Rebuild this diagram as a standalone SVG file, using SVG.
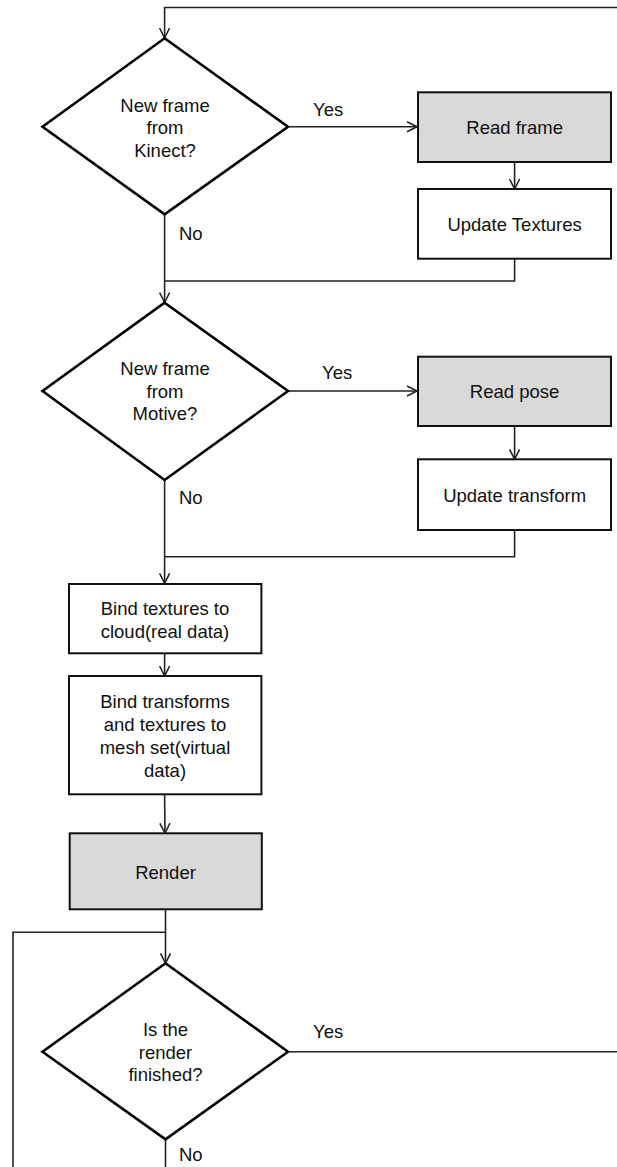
<svg xmlns="http://www.w3.org/2000/svg" width="617" height="1167" viewBox="0 0 617 1167">
  <style>
    text { font-family: "Liberation Sans", Arial, sans-serif; font-size: 18.5px; fill: #111; text-anchor: middle; }
    .lbl { text-anchor: start; }
    .dec { fill: #fff; stroke: #000; stroke-width: 2.6; stroke-linejoin: miter; }
    .box { fill: #fff; stroke: #111; stroke-width: 2; }
    .grey { fill: #d9d9d9; }
    .wire { fill: none; stroke: #222; stroke-width: 1.6; }
  </style>
  <defs>
    <marker id="arrow" markerUnits="userSpaceOnUse" markerWidth="14" markerHeight="14" refX="11" refY="6" orient="auto">
      <path d="M1,1 L11,6 L1,11" fill="none" stroke="#222" stroke-width="1.6"/>
    </marker>
  </defs>

  <!-- connectors -->
  <g id="connectors">
    <!-- loop back into the Kinect check -->
    <polyline class="wire" points="617,7.5 164.6,7.5 164.6,38" marker-end="url(#arrow)"/>
    <line class="wire" x1="288" y1="126.7" x2="417" y2="126.7" marker-end="url(#arrow)"/>
    <line class="wire" x1="514.6" y1="162" x2="514.6" y2="189" marker-end="url(#arrow)"/>
    <polyline class="wire" points="514.6,258.7 514.6,281 164.6,281"/>
    <line class="wire" x1="164.6" y1="214.3" x2="164.6" y2="302.5" marker-end="url(#arrow)"/>

    <line class="wire" x1="288" y1="391" x2="417" y2="391" marker-end="url(#arrow)"/>
    <line class="wire" x1="514.6" y1="426" x2="514.6" y2="459.3" marker-end="url(#arrow)"/>
    <polyline class="wire" points="514.6,530 514.6,556.7 164.6,556.7"/>
    <line class="wire" x1="164.6" y1="480" x2="164.6" y2="583.3" marker-end="url(#arrow)"/>

    <line class="wire" x1="164.6" y1="653.3" x2="164.6" y2="676" marker-end="url(#arrow)"/>
    <line class="wire" x1="164.6" y1="794.3" x2="165" y2="833.3" marker-end="url(#arrow)"/>
    <line class="wire" x1="165.5" y1="909.3" x2="165.5" y2="963.3" marker-end="url(#arrow)"/>

    <!-- wait loop while rendering -->
    <polyline class="wire" points="165.5,1139.3 165.5,1167"/>
    <polyline class="wire" points="13,1167 13,932.3 165.5,932.3"/>
    <line class="wire" x1="288" y1="1051.7" x2="617" y2="1051.7"/>

    <text class="lbl" x="313" y="116">Yes</text>
    <text class="lbl" x="179" y="240">No</text>
    <text class="lbl" x="322" y="379.3">Yes</text>
    <text class="lbl" x="179" y="504">No</text>
    <text class="lbl" x="313" y="1038.3">Yes</text>
    <text class="lbl" x="179" y="1161">No</text>
  </g>

  <g id="kinect-check">
    <polygon class="dec" points="164.6,38.3 288,126.7 164.6,214.3 42.5,126.7"/>
    <text x="165" y="111.7">New frame</text>
    <text x="165" y="134.2">from</text>
    <text x="165" y="156.7">Kinect?</text>
  </g>

  <g id="read-frame">
    <rect class="box grey" x="418" y="92.3" width="193" height="69.7"/>
    <text x="514.6" y="133.6">Read frame</text>
  </g>

  <g id="update-textures">
    <rect class="box" x="418" y="189" width="193" height="69.7"/>
    <text x="514.6" y="230.5">Update Textures</text>
  </g>

  <g id="motive-check">
    <polygon class="dec" points="164.6,302.7 288,391 164.6,480 42.5,391"/>
    <text x="165" y="375">New frame</text>
    <text x="165" y="397.7">from</text>
    <text x="165" y="420.3">Motive?</text>
  </g>

  <g id="read-pose">
    <rect class="box grey" x="418" y="356.7" width="193" height="69.3"/>
    <text x="514.6" y="398">Read pose</text>
  </g>

  <g id="update-transform">
    <rect class="box" x="418" y="459.3" width="193" height="70.7"/>
    <text x="514.6" y="502">Update transform</text>
  </g>

  <g id="bind-cloud">
    <rect class="box" x="69" y="584" width="192.4" height="69.3"/>
    <text x="165" y="615">Bind textures to</text>
    <text x="165" y="638.3">cloud(real data)</text>
  </g>

  <g id="bind-mesh">
    <rect class="box" x="69" y="676" width="192.4" height="118.3"/>
    <text x="165" y="708.3">Bind transforms</text>
    <text x="165" y="731.3">and textures to</text>
    <text x="165" y="754">mesh set(virtual</text>
    <text x="165" y="776.7">data)</text>
  </g>

  <g id="render">
    <rect class="box grey" x="69.7" y="833.3" width="192.1" height="76"/>
    <text x="165.5" y="879">Render</text>
  </g>

  <g id="render-check">
    <polygon class="dec" points="165.5,963.3 288,1051.7 165.5,1139.3 42.5,1051.7"/>
    <text x="165.5" y="1036">Is the</text>
    <text x="165.5" y="1058.5">render</text>
    <text x="165.5" y="1081">finished?</text>
  </g>
</svg>
